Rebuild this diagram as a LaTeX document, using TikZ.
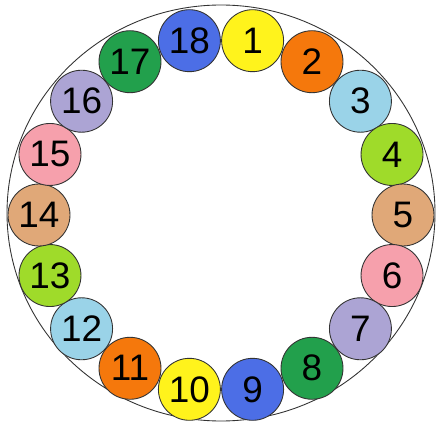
\documentclass[tikz,border=0pt]{standalone}
\usepackage{fontspec}
\setmainfont{Liberation Sans}
\usetikzlibrary{calc}
\definecolor{cYel}{HTML}{FFF31C}
\definecolor{cOra}{HTML}{F5780C}
\definecolor{cSky}{HTML}{9AD3E8}
\definecolor{cLim}{HTML}{9FDB2A}
\definecolor{cTan}{HTML}{E0A878}
\definecolor{cPnk}{HTML}{F6A0AC}
\definecolor{cLav}{HTML}{ACA4D4}
\definecolor{cGrn}{HTML}{22A04C}
\definecolor{cBlu}{HTML}{4C6EE6}
\definecolor{rim}{HTML}{333333}
\tikzset{
  ring/.style={draw=rim, line width=0.5pt},
  ball/.style={circle, draw=rim, line width=0.5pt, minimum size=1.24cm, inner sep=0pt,
    font=\fontsize{21}{21}\selectfont, text=black},
}

\begin{document}
\begin{tikzpicture}[x=0.02cm,y=0.02cm]
\useasboundingbox (0,0) rectangle (436,423);

% ===================== outer ring ==========================================
\draw[ring] (221,210) ellipse [x radius=214, y radius=208];

% ===================== numbered balls ======================================
\foreach \k/\c in {1/cYel, 2/cOra, 3/cSky, 4/cLim, 5/cTan, 6/cPnk, 7/cLav, 8/cGrn, 9/cBlu,
                   10/cYel, 11/cOra, 12/cSky, 13/cLim, 14/cTan, 15/cPnk, 16/cLav, 17/cGrn, 18/cBlu}{
  \pgfmathsetmacro{\ang}{80-20*(\k-1)}
  \node[ball, fill=\c] (c\k) at ($(221,208)+({182*cos(\ang)},{177*sin(\ang)})$) {\k};}

\end{tikzpicture}
\end{document}
